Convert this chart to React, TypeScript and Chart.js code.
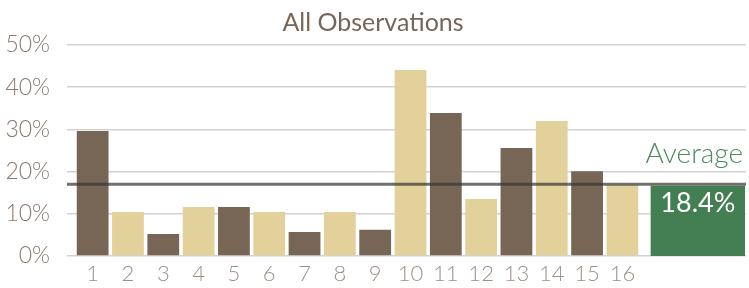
import React, { useEffect, useRef } from "react";
import { Chart, registerables } from "chart.js";

Chart.register(...registerables);

const categories = ["1", "2", "3", "4", "5", "6", "7", "8", "9", "10", "11", "12", "13", "14", "15", "16"];
const values = [29.6, 10.4, 5.2, 11.6, 11.6, 10.4, 5.7, 10.4, 6.2, 44.1, 33.9, 13.5, 25.6, 32.0, 20.1, 16.9];
const blankSlots = ["", "", ""];
const averageLineValue = 17;
const averageText = "18.4%";
const averageTitle = "Average";
const titleText = "All Observations";
const yTicks = [0, 10, 20, 30, 40, 50];

const BROWN = "#776555";
const TAN = "#e3d19c";
const GREEN = "#437f52";
const GREEN_TEXT = "#4e8a60";
const FONT = "Lato, 'Open Sans', sans-serif";

const averagePlugin = {
  id: "averagePlugin",
  afterDatasetsDraw(chart: any) {
    const { ctx, chartArea, scales } = chart;
    const x = scales.x;
    const y = scales.y;
    const pitch = x.getPixelForValue(1) - x.getPixelForValue(0);
    const lineY = y.getPixelForValue(averageLineValue);
    const lineW = 3;
    const tick = 8;
    const boxLeft = x.getPixelForValue(categories.length) - 0.2 * pitch;
    const boxRight = chartArea.right - 1;
    const boxTop = lineY + lineW / 2;
    const boxBottom = y.getPixelForValue(0);
    ctx.save();
    ctx.fillStyle = GREEN;
    ctx.fillRect(boxLeft, boxTop, boxRight - boxLeft, boxBottom - boxTop);
    ctx.strokeStyle = "rgba(55,55,55,0.72)";
    ctx.lineWidth = lineW;
    ctx.beginPath();
    ctx.moveTo(chartArea.left - tick, lineY);
    ctx.lineTo(chartArea.right, lineY);
    ctx.stroke();
    ctx.fillStyle = "#ffffff";
    ctx.font = `400 27px ${FONT}`;
    ctx.textAlign = "center";
    ctx.textBaseline = "top";
    ctx.fillText(averageText, (boxLeft + boxRight) / 2, boxTop + 4);
    ctx.fillStyle = GREEN_TEXT;
    ctx.font = `300 28px ${FONT}`;
    ctx.textAlign = "right";
    ctx.textBaseline = "alphabetic";
    ctx.fillText(averageTitle, chartArea.right - 3, lineY - 21);
    ctx.restore();
  },
};

export default function App() {
  const ref = useRef<HTMLCanvasElement>(null);
  useEffect(() => {
    document.body.style.margin = "0";
    const labels = [...categories, ...blankSlots];
    const data = [...values, ...blankSlots.map(() => null)];
    const colors = values.map((_, i) => (i % 2 === 0 ? BROWN : TAN));
    const chart = new Chart(ref.current!, {
      type: "bar",
      data: {
        labels,
        datasets: [
          {
            data,
            backgroundColor: colors,
            barPercentage: 0.9,
            categoryPercentage: 1.0,
          },
        ],
      },
      options: {
        animation: false,
        responsive: false,
        maintainAspectRatio: false,
        layout: { padding: { top: 0, right: 3, bottom: 0, left: 0 } },
        plugins: {
          legend: { display: false },
          tooltip: { enabled: false },
          title: {
            display: true,
            text: titleText,
            color: "#786555",
            font: { family: FONT, size: 25, weight: "normal" },
            padding: { top: 8, bottom: 7 },
          },
        },
        scales: {
          x: {
            afterFit(scale: any) {
              scale.height = 32;
            },
            grid: { display: false, drawTicks: false },
            border: { display: false },
            ticks: {
              color: "#9e9086",
              font: { family: FONT, size: 22, weight: "300" },
              padding: 5,
              autoSkip: false,
              maxRotation: 0,
            },
          },
          y: {
            min: 0,
            max: 50,
            afterBuildTicks(scale: any) {
              scale.ticks = yTicks.map((v) => ({ value: v }));
            },
            afterFit(scale: any) {
              scale.width = 75;
            },
            grid: {
              color: "#d2d2d2",
              lineWidth: 1.5,
              drawTicks: true,
              tickLength: 8,
              tickColor: "#d2d2d2",
            },
            border: { display: false },
            ticks: {
              color: "#8a7a70",
              font: { family: FONT, size: 23, weight: "300" },
              padding: 17,
              callback: (v: any) => `${v}%`,
            },
          },
        },
      },
      plugins: [averagePlugin],
    });
    return () => chart.destroy();
  }, []);
  return (
    <div style={{ width: 749, height: 288 }}>
      <canvas ref={ref} width={749} height={288} style={{ display: "block" }} />
    </div>
  );
}
